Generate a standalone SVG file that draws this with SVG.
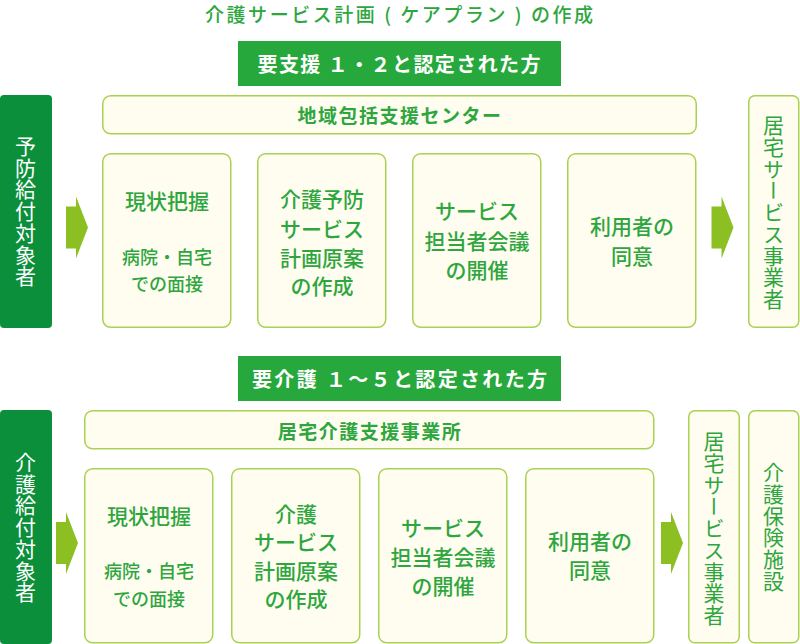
<svg xmlns="http://www.w3.org/2000/svg" width="800" height="644" viewBox="0 0 800 644">
<style>
text{font-family:"Noto Sans CJK JP","Noto Sans",sans-serif;text-anchor:middle;dominant-baseline:central}
.title{font-size:19px;fill:#2ea63e;font-weight:500}
.band{fill:#27a83c}
.bandt{font-size:20px;font-weight:bold;fill:#ffffff}
.side{fill:#0b8f3b}
.sidet{font-size:21px;fill:#ffffff;writing-mode:vertical-rl;letter-spacing:0.7px}
.box{fill:#fffdf0;stroke:#a9d152;stroke-width:1.5}
.hdr{font-size:19px;font-weight:bold;fill:#2ea63e;letter-spacing:1.5px}
.main{font-size:21px;fill:#2ea63e;font-weight:500}
.sub{font-size:18px;fill:#2ea63e;font-weight:500}
.vt{font-size:21px;fill:#2ea63e;writing-mode:vertical-rl;letter-spacing:0.7px}
.arrow{fill:#8cbf22}
</style>
<defs>
<path id="arr" d="M0,10 H10 V0 L22,31 L10,62 V52 H0 Z"/>
</defs>

<g id="title"><text class="title" x="399" y="13.5" textLength="388" lengthAdjust="spacing">介護サービス計画 ( ケアプラン ) の作成</text></g>

<!-- Top section -->
<g id="band-top"><rect class="band" x="238" y="41" width="323" height="45"/><text class="bandt" x="399" y="63.5" textLength="283" lengthAdjust="spacing">要支援 １・２と認定された方</text></g>
<g id="side-top"><rect class="side" x="0" y="95" width="52" height="233" rx="4"/><text class="sidet" x="25.5" y="211.5">予防給付対象者</text></g>
<g id="center-top"><rect class="box" x="102.75" y="95.75" width="593.5" height="38" rx="8"/><text class="hdr" x="400" y="114.5">地域包括支援センター</text></g>
<g id="t1"><rect class="box" x="102.75" y="153.75" width="128" height="173.5" rx="8"/><text class="main" x="167" y="200">現状把握</text><text class="sub" x="167" y="256">病院・自宅</text><text class="sub" x="167" y="283">での面接</text></g>
<g id="t2"><rect class="box" x="257.75" y="153.75" width="128" height="173.5" rx="8"/><text class="main" x="322" y="198">介護予防</text><text class="main" x="322" y="227.5">サービス</text><text class="main" x="322" y="257">計画原案</text><text class="main" x="322" y="284.5">の作成</text></g>
<g id="t3"><rect class="box" x="412.75" y="153.75" width="128" height="173.5" rx="8"/><text class="main" x="477" y="210">サービス</text><text class="main" x="477" y="240">担当者会議</text><text class="main" x="477" y="268.5">の開催</text></g>
<g id="t4"><rect class="box" x="567.75" y="153.75" width="128" height="173.5" rx="8"/><text class="main" x="632" y="225">利用者の</text><text class="main" x="632" y="254.5">同意</text></g>
<g id="r-top"><rect class="box" x="748.75" y="95.75" width="50" height="231.5" rx="6"/><text class="vt" x="773.5" y="212.5">居宅サービス事業者</text></g>

<!-- Bottom section -->
<g id="band-bot"><rect class="band" x="238" y="356" width="323" height="45"/><text class="bandt" x="399.5" y="378.5" textLength="295" lengthAdjust="spacing">要介護 １～５と認定された方</text></g>
<g id="side-bot"><rect class="side" x="0" y="410" width="52" height="234" rx="4"/><text class="sidet" x="25.5" y="527.5">介護給付対象者</text></g>
<g id="center-bot"><rect class="box" x="84.75" y="410.75" width="569" height="38" rx="8"/><text class="hdr" x="370" y="430">居宅介護支援事業所</text></g>
<g id="b1"><rect class="box" x="84.75" y="468.75" width="128" height="174" rx="8"/><text class="main" x="149" y="515">現状把握</text><text class="sub" x="149" y="570">病院・自宅</text><text class="sub" x="149" y="598">での面接</text></g>
<g id="b2"><rect class="box" x="231.75" y="468.75" width="128" height="174" rx="8"/><text class="main" x="296" y="513">介護</text><text class="main" x="296" y="541">サービス</text><text class="main" x="296" y="570">計画原案</text><text class="main" x="296" y="598">の作成</text></g>
<g id="b3"><rect class="box" x="378.75" y="468.75" width="128" height="174" rx="8"/><text class="main" x="443" y="527">サービス</text><text class="main" x="443" y="555.5">担当者会議</text><text class="main" x="443" y="584.5">の開催</text></g>
<g id="b4"><rect class="box" x="525.75" y="468.75" width="128" height="174" rx="8"/><text class="main" x="590" y="540">利用者の</text><text class="main" x="590" y="568.5">同意</text></g>
<g id="r-bot1"><rect class="box" x="688.75" y="410.75" width="50.5" height="232" rx="6"/><text class="vt" x="714" y="528.5">居宅サービス事業者</text></g>
<g id="r-bot2"><rect class="box" x="748.75" y="410.75" width="50" height="232" rx="6"/><text class="vt" x="773.5" y="527">介護保険施設</text></g>

<g id="connectors">
<use href="#arr" class="arrow" x="66" y="196.5"/>
<use href="#arr" class="arrow" x="711.5" y="196.5"/>
<use href="#arr" class="arrow" x="56" y="512"/>
<use href="#arr" class="arrow" x="661" y="512"/>
</g>
</svg>
